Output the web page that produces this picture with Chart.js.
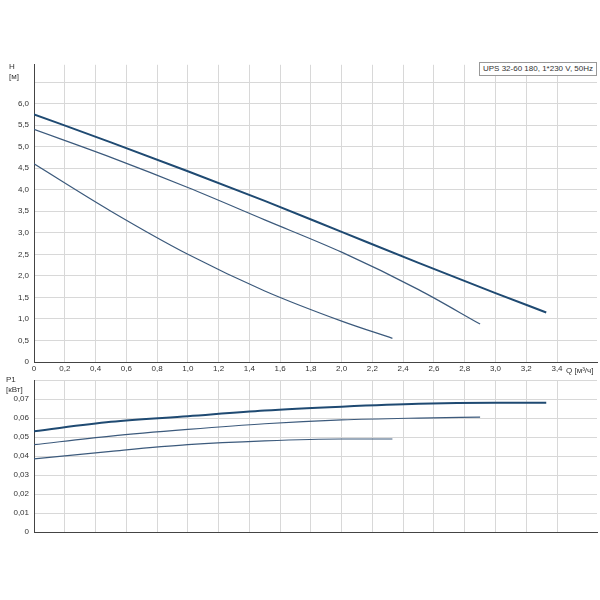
<!DOCTYPE html>
<html><head><meta charset="utf-8">
<script src="https://cdn.jsdelivr.net/npm/chart.js@4"></script>
<style>
body{margin:0;background:#fff;font-family:"Liberation Sans",Arial,sans-serif}
.c{position:absolute;left:0;width:600px}
.t{position:absolute;font-size:8px;color:#333;line-height:10px;white-space:nowrap}
</style></head><body>
<div class="c" style="top:55px;height:325px"><canvas id="h"></canvas></div>
<div class="c" style="top:370px;height:172px"><canvas id="p"></canvas></div>
<div class="t" style="left:9px;top:62px">H<br>[м]</div>
<div class="t" style="left:566px;top:366px">Q [м³/ч]</div>
<div class="t" style="left:6px;top:375px">P1<br>[кВт]</div>
<div class="t" style="left:479px;top:62px;border:1px solid #999;padding:1px 3px;background:#fff">UPS 32-60 180, 1*230 V, 50Hz</div>
<script>
const qHigh = [0, 0.5, 1.0, 1.5, 2.0, 2.5, 3.0, 3.33];
const hHigh = [5.75, 5.1, 4.43, 3.74, 3.02, 2.3, 1.6, 1.15];
const pHigh = [0.053, 0.058, 0.061, 0.064, 0.066, 0.0675, 0.068, 0.068];
const qMid = [0, 0.5, 1.0, 1.5, 2.0, 2.5, 2.9];
const hMid = [5.4, 4.75, 4.05, 3.3, 2.55, 1.68, 0.88];
const pMid = [0.046, 0.0505, 0.054, 0.057, 0.059, 0.060, 0.0605];
const qLow = [0, 0.5, 1.0, 1.5, 2.0, 2.33];
const hLow = [4.6, 3.5, 2.5, 1.65, 0.95, 0.55];
const pLow = [0.0385, 0.0425, 0.046, 0.048, 0.049, 0.049];

const xy = (q, v) => q.map((x, i) => ({ x, y: v[i] }));
const font = { family: "Liberation Sans", size: 8 };
function ds(q, v, w) {
  return { data: xy(q, v), borderColor: w > 1.5 ? "#1f4a72" : "#3c5a7c", borderWidth: w,
    pointRadius: 0, cubicInterpolationMode: "monotone", fill: false };
}
function xAxis(showLabels) {
  return {
    type: "linear", min: 0, max: 3.66,
    afterBuildTicks: a => { a.ticks = []; for (let i = 0; i <= 17; i++) a.ticks.push({ value: +(i * 0.2).toFixed(1) }); },
    ticks: { display: showLabels, color: "#333", font, padding: 2, maxRotation: 0,
      callback: v => v === 0 ? "0" : v.toFixed(1).replace(".", ",") },
    grid: { color: "#d8d8d8", drawTicks: false },
    border: { color: "#444" },
    afterFit: a => { a.height = showLabels ? 18 : 0; }
  };
}
function yAxis(max, step, dec, hideAbove) {
  return {
    min: 0, max,
    afterBuildTicks: a => { a.ticks = []; for (let v = 0; v <= max + 1e-9; v += step) a.ticks.push({ value: +v.toFixed(4) }); },
    ticks: { color: "#333", font, padding: 5,
      callback: v => v > hideAbove ? "" : (v === 0 ? "0" : v.toFixed(dec).replace(".", ",")) },
    grid: { color: "#d8d8d8", drawTicks: false },
    border: { color: "#444" },
    afterFit: a => { a.width = 34; }
  };
}
const base = { responsive: true, maintainAspectRatio: false, animation: false,
  plugins: { legend: { display: false }, tooltip: { enabled: false } } };

new Chart(document.getElementById("h"), {
  type: "line",
  data: { datasets: [ds(qHigh, hHigh, 2), ds(qMid, hMid, 1.2), ds(qLow, hLow, 1.2)] },
  options: { ...base, layout: { padding: { top: 5, right: 3 } },
    scales: { x: xAxis(true), y: yAxis(6.9, 0.5, 1, 6.0) } }
});
new Chart(document.getElementById("p"), {
  type: "line",
  data: { datasets: [ds(qHigh, pHigh, 2), ds(qMid, pMid, 1.2), ds(qLow, pLow, 1.2)] },
  options: { ...base, layout: { padding: { top: 10, right: 3, bottom: 6 } },
    scales: { x: xAxis(false), y: yAxis(0.08, 0.01, 2, 0.07) } }
});
</script></body></html>
